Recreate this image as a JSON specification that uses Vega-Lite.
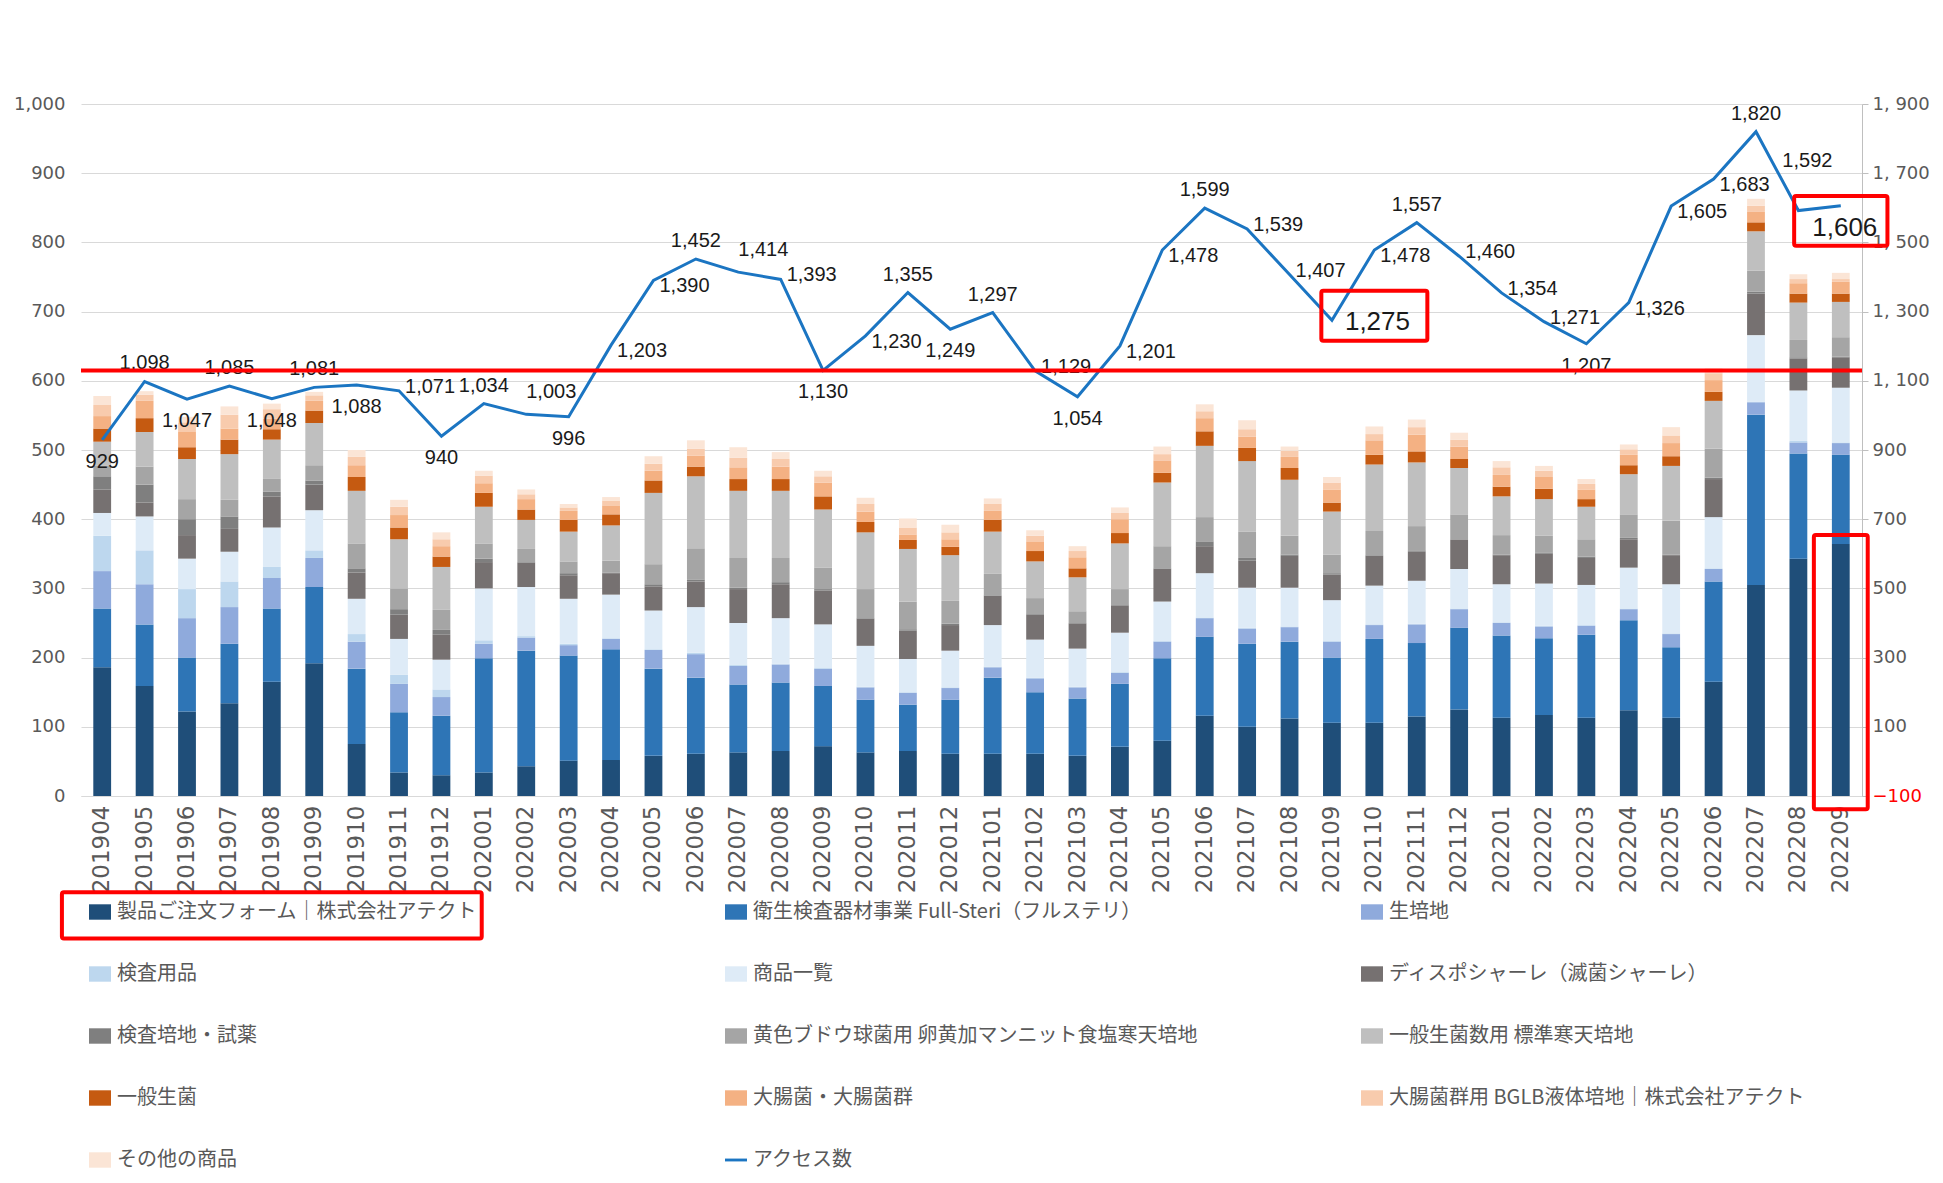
{
  "$schema": "https://vega.github.io/schema/vega-lite/v6.json",
  "width": 1781,
  "height": 692,
  "autosize": {"type": "none"},
  "padding": {"left": 81, "top": 104, "right": 81, "bottom": 387},
  "background": "white",
  "datasets": {
    "monthly": [
      {"month": "201904", "a": 186, "b": 85, "c": 54, "d": 51, "e": 33, "f": 34, "g": 19, "h": 15, "i": 35, "j": 19, "k": 18, "l": 16, "m": 13, "acc": 929},
      {"month": "201905", "a": 159, "b": 89, "c": 58, "d": 49, "e": 49, "f": 20, "g": 26, "h": 26, "i": 50, "j": 20, "k": 25, "l": 9, "m": 5, "acc": 1098},
      {"month": "201906", "a": 122, "b": 78, "c": 57, "d": 42, "e": 44, "f": 34, "g": 23, "h": 29, "i": 58, "j": 17, "k": 22, "l": 14, "m": 8, "acc": 1047},
      {"month": "201907", "a": 134, "b": 86, "c": 53, "d": 37, "e": 43, "f": 33, "g": 18, "h": 24, "i": 66, "j": 21, "k": 16, "l": 20, "m": 12, "acc": 1085},
      {"month": "201908", "a": 165, "b": 106, "c": 44, "d": 16, "e": 57, "f": 45, "g": 7, "h": 19, "i": 56, "j": 15, "k": 15, "l": 14, "m": 8, "acc": 1048},
      {"month": "201909", "a": 192, "b": 110, "c": 42, "d": 11, "e": 58, "f": 37, "g": 6, "h": 22, "i": 61, "j": 18, "k": 14, "l": 8, "m": 5, "acc": 1081},
      {"month": "201910", "a": 75, "b": 109, "c": 39, "d": 11, "e": 51, "f": 38, "g": 6, "h": 36, "i": 76, "j": 20, "k": 17, "l": 12, "m": 10, "acc": 1088},
      {"month": "201911", "a": 34, "b": 87, "c": 41, "d": 13, "e": 52, "f": 35, "g": 8, "h": 30, "i": 71, "j": 17, "k": 18, "l": 12, "m": 10, "acc": 1071},
      {"month": "201912", "a": 30, "b": 86, "c": 27, "d": 11, "e": 43, "f": 36, "g": 7, "h": 29, "i": 62, "j": 15, "k": 15, "l": 10, "m": 10, "acc": 940},
      {"month": "202001", "a": 34, "b": 165, "c": 21, "d": 5, "e": 75, "f": 38, "g": 5, "h": 22, "i": 53, "j": 20, "k": 14, "l": 11, "m": 7, "acc": 1034},
      {"month": "202002", "a": 43, "b": 167, "c": 19, "d": 2, "e": 71, "f": 35, "g": 1, "h": 19, "i": 42, "j": 15, "k": 15, "l": 7, "m": 7, "acc": 1003},
      {"month": "202003", "a": 51, "b": 152, "c": 15, "d": 2, "e": 65, "f": 34, "g": 3, "h": 17, "i": 43, "j": 17, "k": 13, "l": 5, "m": 5, "acc": 996},
      {"month": "202004", "a": 52, "b": 160, "c": 15, "d": 1, "e": 63, "f": 31, "g": 1, "h": 17, "i": 51, "j": 16, "k": 13, "l": 7, "m": 5, "acc": 1203},
      {"month": "202005", "a": 58, "b": 126, "c": 27, "d": 1, "e": 56, "f": 35, "g": 3, "h": 29, "i": 103, "j": 18, "k": 14, "l": 10, "m": 11, "acc": 1390},
      {"month": "202006", "a": 61, "b": 110, "c": 34, "d": 2, "e": 66, "f": 37, "g": 3, "h": 45, "i": 104, "j": 14, "k": 16, "l": 10, "m": 12, "acc": 1452},
      {"month": "202007", "a": 63, "b": 98, "c": 27, "d": 2, "e": 60, "f": 49, "g": 2, "h": 43, "i": 97, "j": 17, "k": 17, "l": 14, "m": 15, "acc": 1414},
      {"month": "202008", "a": 65, "b": 99, "c": 26, "d": 1, "e": 66, "f": 49, "g": 3, "h": 35, "i": 97, "j": 17, "k": 18, "l": 11, "m": 10, "acc": 1393},
      {"month": "202009", "a": 72, "b": 87, "c": 25, "d": 1, "e": 63, "f": 49, "g": 2, "h": 31, "i": 84, "j": 19, "k": 20, "l": 9, "m": 8, "acc": 1130},
      {"month": "202010", "a": 63, "b": 76, "c": 18, "d": 1, "e": 59, "f": 39, "g": 1, "h": 42, "i": 82, "j": 15, "k": 15, "l": 11, "m": 9, "acc": 1230},
      {"month": "202011", "a": 65, "b": 67, "c": 17, "d": 1, "e": 48, "f": 41, "g": 2, "h": 40, "i": 76, "j": 13, "k": 8, "l": 10, "m": 13, "acc": 1355},
      {"month": "202012", "a": 61, "b": 78, "c": 17, "d": 1, "e": 53, "f": 37, "g": 2, "h": 33, "i": 66, "j": 12, "k": 11, "l": 10, "m": 11, "acc": 1249},
      {"month": "202101", "a": 61, "b": 110, "c": 15, "d": 1, "e": 60, "f": 42, "g": 1, "h": 31, "i": 61, "j": 17, "k": 13, "l": 10, "m": 8, "acc": 1297},
      {"month": "202102", "a": 61, "b": 89, "c": 20, "d": 1, "e": 55, "f": 36, "g": 2, "h": 22, "i": 53, "j": 15, "k": 14, "l": 8, "m": 8, "acc": 1129},
      {"month": "202103", "a": 58, "b": 83, "c": 16, "d": 1, "e": 55, "f": 36, "g": 1, "h": 17, "i": 49, "j": 13, "k": 16, "l": 9, "m": 7, "acc": 1054},
      {"month": "202104", "a": 71, "b": 91, "c": 16, "d": 1, "e": 57, "f": 39, "g": 2, "h": 22, "i": 66, "j": 15, "k": 20, "l": 9, "m": 8, "acc": 1201},
      {"month": "202105", "a": 80, "b": 119, "c": 24, "d": 1, "e": 57, "f": 47, "g": 1, "h": 32, "i": 92, "j": 14, "k": 18, "l": 9, "m": 11, "acc": 1478},
      {"month": "202106", "a": 116, "b": 114, "c": 27, "d": 1, "e": 64, "f": 39, "g": 7, "h": 35, "i": 103, "j": 21, "k": 19, "l": 10, "m": 10, "acc": 1599},
      {"month": "202107", "a": 100, "b": 120, "c": 22, "d": 1, "e": 58, "f": 39, "g": 4, "h": 38, "i": 102, "j": 19, "k": 16, "l": 11, "m": 13, "acc": 1539},
      {"month": "202108", "a": 112, "b": 111, "c": 21, "d": 1, "e": 56, "f": 46, "g": 2, "h": 27, "i": 81, "j": 17, "k": 16, "l": 9, "m": 6, "acc": 1407},
      {"month": "202109", "a": 106, "b": 94, "c": 23, "d": 1, "e": 59, "f": 37, "g": 2, "h": 27, "i": 62, "j": 13, "k": 19, "l": 10, "m": 8, "acc": 1275},
      {"month": "202110", "a": 106, "b": 121, "c": 20, "d": 1, "e": 56, "f": 43, "g": 1, "h": 35, "i": 96, "j": 14, "k": 21, "l": 9, "m": 11, "acc": 1478},
      {"month": "202111", "a": 115, "b": 106, "c": 27, "d": 1, "e": 62, "f": 42, "g": 2, "h": 35, "i": 92, "j": 16, "k": 24, "l": 11, "m": 11, "acc": 1557},
      {"month": "202112", "a": 125, "b": 118, "c": 27, "d": 1, "e": 57, "f": 42, "g": 1, "h": 36, "i": 67, "j": 13, "k": 18, "l": 10, "m": 10, "acc": 1460},
      {"month": "202201", "a": 113, "b": 119, "c": 18, "d": 1, "e": 55, "f": 42, "g": 1, "h": 28, "i": 56, "j": 14, "k": 17, "l": 11, "m": 9, "acc": 1354},
      {"month": "202202", "a": 117, "b": 111, "c": 17, "d": 1, "e": 61, "f": 43, "g": 2, "h": 24, "i": 53, "j": 15, "k": 17, "l": 9, "m": 7, "acc": 1271},
      {"month": "202203", "a": 113, "b": 120, "c": 13, "d": 1, "e": 58, "f": 39, "g": 2, "h": 25, "i": 47, "j": 11, "k": 14, "l": 8, "m": 7, "acc": 1207},
      {"month": "202204", "a": 124, "b": 130, "c": 16, "d": 1, "e": 59, "f": 41, "g": 2, "h": 34, "i": 58, "j": 13, "k": 15, "l": 8, "m": 7, "acc": 1326},
      {"month": "202205", "a": 113, "b": 102, "c": 19, "d": 1, "e": 71, "f": 42, "g": 1, "h": 49, "i": 79, "j": 14, "k": 19, "l": 11, "m": 12, "acc": 1605},
      {"month": "202206", "a": 165, "b": 145, "c": 18, "d": 1, "e": 74, "f": 55, "g": 2, "h": 42, "i": 69, "j": 13, "k": 17, "l": 10, "m": 7, "acc": 1683},
      {"month": "202207", "a": 305, "b": 246, "c": 18, "d": 1, "e": 96, "f": 60, "g": 3, "h": 30, "i": 57, "j": 13, "k": 15, "l": 9, "m": 10, "acc": 1820},
      {"month": "202208", "a": 343, "b": 152, "c": 16, "d": 2, "e": 73, "f": 46, "g": 2, "h": 25, "i": 54, "j": 13, "k": 15, "l": 6, "m": 7, "acc": 1592},
      {"month": "202209", "a": 364, "b": 129, "c": 17, "d": 1, "e": 79, "f": 44, "g": 1, "h": 28, "i": 51, "j": 12, "k": 17, "l": 4, "m": 9, "acc": 1606}
    ],
    "cats": [
      {"k": "a", "name": "製品ご注文フォーム｜株式会社アテクト", "ord": 1},
      {"k": "b", "name": "衛生検査器材事業 Full-Steri（フルステリ）", "ord": 2},
      {"k": "c", "name": "生培地", "ord": 3},
      {"k": "d", "name": "検査用品", "ord": 4},
      {"k": "e", "name": "商品一覧", "ord": 5},
      {"k": "f", "name": "ディスポシャーレ（滅菌シャーレ）", "ord": 6},
      {"k": "g", "name": "検査培地・試薬", "ord": 7},
      {"k": "h", "name": "黄色ブドウ球菌用 卵黄加マンニット食塩寒天培地", "ord": 8},
      {"k": "i", "name": "一般生菌数用 標準寒天培地", "ord": 9},
      {"k": "j", "name": "一般生菌", "ord": 10},
      {"k": "k", "name": "大腸菌・大腸菌群", "ord": 11},
      {"k": "l", "name": "大腸菌群用 BGLB液体培地｜株式会社アテクト", "ord": 12},
      {"k": "m", "name": "その他の商品", "ord": 13}
    ]
  },
  "encoding": {
    "x": {
      "field": "month",
      "type": "ordinal",
      "scale": {"paddingInner": 0, "paddingOuter": 0},
      "axis": {
        "title": null,
        "labelAngle": -90,
        "labelFont": "DejaVu Sans",
        "labelFontSize": 23,
        "labelColor": "#595959",
        "ticks": false,
        "domainColor": "#D9D9D9",
        "labelPadding": 9,
        "grid": false
      }
    }
  },
  "layer": [
    {
      "data": {"name": "monthly"},
      "transform": [
        {"fold": ["a", "b", "c", "d", "e", "f", "g", "h", "i", "j", "k", "l", "m"], "as": ["k", "v"]},
        {"lookup": "k", "from": {"data": {"name": "cats"}, "key": "k", "fields": ["name", "ord"]}}
      ],
      "mark": {"type": "bar", "width": {"band": 0.42}},
      "encoding": {
        "y": {
          "field": "v",
          "type": "quantitative",
          "stack": "zero",
          "scale": {"domain": [0, 1000], "nice": false},
          "axis": {
            "title": null,
            "orient": "left",
            "values": [0, 100, 200, 300, 400, 500, 600, 700, 800, 900, 1000],
            "labelExpr": "format(datum.value, ',')",
            "labelFont": "DejaVu Sans",
            "labelFontSize": 18,
            "labelColor": "#595959",
            "domain": false,
            "ticks": false,
            "grid": true,
            "gridColor": "#D9D9D9",
            "labelPadding": 16
          }
        },
        "color": {
          "field": "name",
          "type": "nominal",
          "scale": {
            "domain": ["製品ご注文フォーム｜株式会社アテクト", "衛生検査器材事業 Full-Steri（フルステリ）", "生培地", "検査用品", "商品一覧", "ディスポシャーレ（滅菌シャーレ）", "検査培地・試薬", "黄色ブドウ球菌用 卵黄加マンニット食塩寒天培地", "一般生菌数用 標準寒天培地", "一般生菌", "大腸菌・大腸菌群", "大腸菌群用 BGLB液体培地｜株式会社アテクト", "その他の商品", "アクセス数"],
            "range": ["#1F4E79", "#2E75B6", "#8FAADC", "#BDD7EE", "#DEEBF7", "#767171", "#7F7F7F", "#A5A5A5", "#BFBFBF", "#C55A11", "#F4B183", "#F8CBAD", "#FBE5D6", "#1B75C2"]
          },
          "legend": {
            "title": null,
            "orient": "none",
            "legendX": 8,
            "legendY": 797,
            "columns": 3,
            "direction": "horizontal",
            "gridAlign": "all",
            "labelFont": "Noto Sans CJK JP",
            "labelFontSize": 20,
            "labelColor": "#595959",
            "labelLimit": 0,
            "labelOffset": 6,
            "symbolSize": 484,
            "symbolStrokeWidth": 0,
            "symbolType": {"expr": "datum.value === 'アクセス数' ? 'M-1,-0.13H1V0.13H-1Z' : 'M-1,-0.7H1V0.7H-1Z'"},
            "rowPadding": 41,
            "columnPadding": 163,
            "padding": 0
          }
        },
        "order": {"field": "ord", "type": "quantitative"}
      }
    },
    {
      "data": {"name": "monthly"},
      "transform": [
        {"window": [{"op": "lag", "field": "acc", "as": "prev"}, {"op": "lead", "field": "acc", "as": "next"}], "sort": [{"field": "month", "order": "ascending"}]}
      ],
      "encoding": {
        "y": {
          "field": "acc",
          "type": "quantitative",
          "scale": {"domain": [-100, 1900], "nice": false},
          "axis": {
            "title": null,
            "orient": "right",
            "values": [-100, 100, 300, 500, 700, 900, 1100, 1300, 1500, 1700, 1900],
            "labelExpr": "replace(format(datum.value, ','), ',', ', ')",
            "labelColor": {"condition": {"test": "datum.value < 0", "value": "#FF0000"}, "value": "#595959"},
            "labelFont": "DejaVu Sans",
            "labelFontSize": 18,
            "domainColor": "#BFBFBF",
            "tickColor": "#BFBFBF",
            "tickSize": 6,
            "labelPadding": 4,
            "grid": false
          }
        }
      },
      "layer": [
        {
          "mark": {"type": "line", "strokeWidth": 3},
          "encoding": {"color": {"datum": "アクセス数"}}
        },
        {
          "transform": [{"filter": "datum.month === '201909' || (datum.month !== '202109' && datum.month !== '202209' && datum.month !== '202208' && datum.month !== '201910' && (datum.prev == null || datum.acc >= datum.prev) && (datum.next == null || datum.acc >= datum.next))"}],
          "mark": {"type": "text", "font": "Liberation Sans", "fontSize": 20, "color": "#1a1a1a", "dy": -18, "baseline": "middle"},
          "encoding": {"text": {"field": "acc", "type": "quantitative", "format": ","}}
        },
        {
          "transform": [{"filter": "datum.month === '201910' || (datum.month !== '202109' && datum.month !== '202209' && datum.month !== '202208' && datum.month !== '201909' && (datum.prev == null || datum.acc <= datum.prev) && (datum.next == null || datum.acc <= datum.next))"}],
          "mark": {"type": "text", "font": "Liberation Sans", "fontSize": 20, "color": "#1a1a1a", "dy": 22, "baseline": "middle"},
          "encoding": {"text": {"field": "acc", "type": "quantitative", "format": ","}}
        },
        {
          "transform": [{"filter": "datum.month !== '202109' && datum.month !== '202209' && datum.month !== '202208' && datum.month !== '201909' && datum.month !== '201910' && datum.prev != null && datum.next != null && datum.prev < datum.acc && datum.acc < datum.next"}],
          "mark": {"type": "text", "font": "Liberation Sans", "fontSize": 20, "color": "#1a1a1a", "dx": 6, "dy": 6, "align": "left", "baseline": "middle"},
          "encoding": {"text": {"field": "acc", "type": "quantitative", "format": ","}}
        },
        {
          "transform": [{"filter": "datum.month !== '202109' && datum.month !== '202209' && datum.month !== '202208' && datum.month !== '201909' && datum.month !== '201910' && datum.prev != null && datum.next != null && datum.prev > datum.acc && datum.acc > datum.next && datum.acc - datum.next < 60"}],
          "mark": {"type": "text", "font": "Liberation Sans", "fontSize": 20, "color": "#1a1a1a", "dx": 0, "dy": -22, "align": "left", "baseline": "middle"},
          "encoding": {"text": {"field": "acc", "type": "quantitative", "format": ","}}
        },
        {
          "transform": [{"filter": "datum.month !== '202109' && datum.month !== '202209' && datum.month !== '202208' && datum.month !== '201909' && datum.month !== '201910' && datum.prev != null && datum.next != null && datum.prev > datum.acc && datum.acc > datum.next && datum.acc - datum.next >= 60"}],
          "mark": {"type": "text", "font": "Liberation Sans", "fontSize": 20, "color": "#1a1a1a", "dx": 6, "dy": -4, "align": "left", "baseline": "middle"},
          "encoding": {"text": {"field": "acc", "type": "quantitative", "format": ","}}
        },
        {
          "transform": [{"filter": "datum.month === '202208'"}],
          "mark": {"type": "text", "font": "Liberation Sans", "fontSize": 20, "color": "#1a1a1a", "dx": 9, "dy": -50, "baseline": "middle"},
          "encoding": {"text": {"field": "acc", "type": "quantitative", "format": ","}}
        },
        {
          "transform": [{"filter": "datum.month === '202109'"}],
          "mark": {"type": "text", "font": "Liberation Sans", "fontSize": 26, "color": "#1a1a1a", "dx": 13, "dy": 2, "align": "left", "baseline": "middle"},
          "encoding": {"text": {"field": "acc", "type": "quantitative", "format": ","}}
        },
        {
          "transform": [{"filter": "datum.month === '202209'"}],
          "mark": {"type": "text", "font": "Liberation Sans", "fontSize": 26, "color": "#1a1a1a", "dx": 4, "dy": 22, "align": "center", "baseline": "middle"},
          "encoding": {"text": {"field": "acc", "type": "quantitative", "format": ","}}
        }
      ]
    },
    {
      "layer": [
        {
          "data": {"values": [{"lvl": 615}]},
          "mark": {"type": "rule", "color": "#FF0000", "strokeWidth": 4},
          "encoding": {
            "x": null,
            "y": {"field": "lvl", "type": "quantitative", "scale": {"domain": [0, 1000], "nice": false}, "axis": null}
          }
        },
        {
          "data": {"values": [{"month": "202110", "lo": 658, "hi": 730}]},
          "mark": {"type": "bar", "width": {"band": 2.5}, "fill": "transparent", "stroke": "#FF0000", "strokeWidth": 4, "cornerRadius": 2},
          "encoding": {
            "y": {"field": "lo", "type": "quantitative", "scale": {"domain": [0, 1000], "nice": false}, "axis": null},
            "y2": {"field": "hi"}
          }
        },
        {
          "data": {"values": [{"month": "202209", "lo": 795, "hi": 867}]},
          "mark": {"type": "bar", "width": {"band": 2.2}, "fill": "transparent", "stroke": "#FF0000", "strokeWidth": 4, "cornerRadius": 2},
          "encoding": {
            "y": {"field": "lo", "type": "quantitative", "scale": {"domain": [0, 1000], "nice": false}, "axis": null},
            "y2": {"field": "hi"}
          }
        },
        {
          "data": {"values": [{"month": "202209", "lo": -19, "hi": 377}]},
          "mark": {"type": "bar", "width": {"band": 1.27}, "fill": "transparent", "stroke": "#FF0000", "strokeWidth": 4, "cornerRadius": 2},
          "encoding": {
            "y": {"field": "lo", "type": "quantitative", "scale": {"domain": [0, 1000], "nice": false}, "axis": null},
            "y2": {"field": "hi"}
          }
        },
        {
          "data": {"values": [{"month": "201908", "lo": -206, "hi": -139}]},
          "mark": {"type": "bar", "width": {"band": 9.9}, "fill": "transparent", "stroke": "#FF0000", "strokeWidth": 4, "cornerRadius": 2},
          "encoding": {
            "y": {"field": "lo", "type": "quantitative", "scale": {"domain": [0, 1000], "nice": false}, "axis": null},
            "y2": {"field": "hi"}
          }
        }
      ]
    }
  ],
  "resolve": {"scale": {"y": "independent"}},
  "config": {
    "view": {"stroke": null}
  }
}
